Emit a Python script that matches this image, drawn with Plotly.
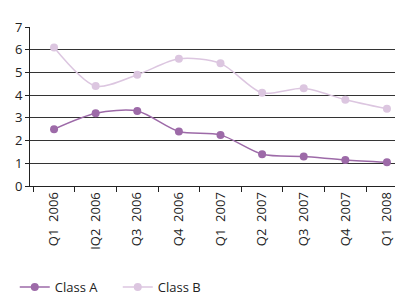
import plotly.graph_objects as go

categories = ["Q1  2006", "IQ2  2006", "Q3  2006", "Q4  2006", "Q1  2007",
              "Q2  2007", "Q3  2007", "Q4  2007", "Q1  2008"]
class_a = [2.5, 3.2, 3.3, 2.4, 2.25, 1.4, 1.3, 1.15, 1.05]
class_b = [6.1, 4.4, 4.9, 5.6, 5.4, 4.1, 4.3, 3.8, 3.4]

fig = go.Figure()
fig.add_trace(go.Scatter(x=categories, y=class_a, name="Class A", mode="lines+markers",
                         line=dict(color="#9d6aa8", width=1.5, shape="spline", smoothing=0.8),
                         marker=dict(color="#9d6aa8", size=8)))
fig.add_trace(go.Scatter(x=categories, y=class_b, name="Class B", mode="lines+markers",
                         line=dict(color="#dcc6e0", width=1.5, shape="spline", smoothing=0.8),
                         marker=dict(color="#dcc6e0", size=8)))

fig.update_layout(
    width=403, height=294,
    margin=dict(l=22, r=0, t=19, b=108),
    paper_bgcolor="white", plot_bgcolor="white",
    font=dict(family="Open Sans, DejaVu Sans, sans-serif", color="#222", size=13),
    showlegend=True,
    legend=dict(orientation="h", x=-0.04, xanchor="left", y=-0.64, yanchor="middle",
                font=dict(size=13), entrywidth=58, entrywidthmode="pixels",
                bgcolor="rgba(0,0,0,0)"),
    xaxis=dict(type="category", tickangle=-90, showgrid=False, showline=True,
               linecolor="#222", linewidth=1, ticks="outside", ticklen=5,
               tickcolor="#222", tickson="boundaries", tickfont=dict(size=13)),
    yaxis=dict(range=[0, 7], dtick=1, showgrid=True, gridcolor="#333", gridwidth=1,
               showline=True, linecolor="#222", linewidth=1, ticks="outside",
               ticklen=4, tickcolor="#222", zeroline=False, tickfont=dict(size=13)),
)

fig.write_html("out.html")
